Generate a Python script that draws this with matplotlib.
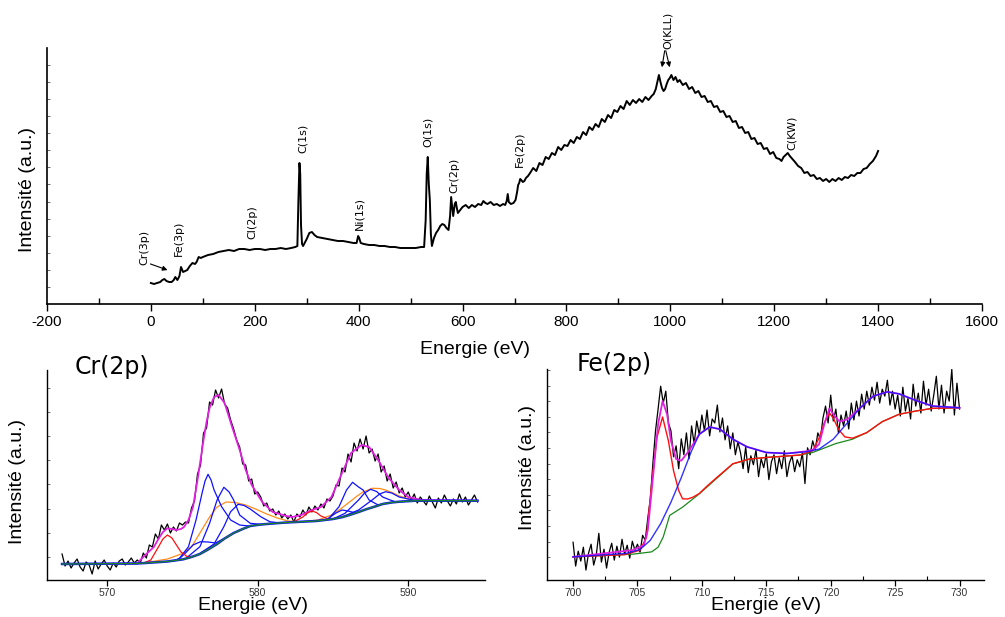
#!/usr/bin/env python3
"""XPS survey + Cr(2p) / Fe(2p) high resolution spectra."""

import matplotlib
import numpy as np

matplotlib.use("Agg")
import matplotlib.pyplot as plt  # noqa: E402
from matplotlib.ticker import FixedLocator, MultipleLocator, NullFormatter  # noqa: E402

plt.rcParams["font.family"] = ["Liberation Sans", "DejaVu Sans"]
plt.rcParams["axes.unicode_minus"] = False

W, H = 1005, 617

# ---------------------------------------------------------------- survey data
survey_energy = [
    0, 6, 12, 18, 22, 26, 30, 35, 40, 44, 47, 51, 55, 58, 62, 66, 70, 75, 80,
    85, 88, 92, 96, 100, 110, 120, 130, 140, 150, 160, 170, 180, 190, 200, 210,
    220, 230, 240, 250, 260, 270, 278, 282, 284, 286, 287.5, 289, 291, 293, 296,
    300, 305, 310, 315, 320, 330, 340, 350, 360, 370, 380, 390, 396, 399, 401,
    404, 410, 420, 430, 440, 450, 460, 470, 480, 490, 500, 510, 520, 526, 529,
    531, 533, 535, 537, 539, 541, 545, 549, 553, 557, 561, 565, 569, 573, 576,
    578, 580, 582, 585, 587, 589, 591, 594, 600, 606, 612, 618, 624, 630, 636,
    640, 644, 648, 654, 660, 666, 672, 678, 682, 685, 687, 689, 693, 698, 702,
    705, 707, 709, 711, 713, 716, 719, 722, 726,
    730, 736, 742, 748, 754, 760, 766, 772, 778, 784, 790, 796, 802, 808, 814,
    820, 826, 832, 838, 844, 850, 856, 862, 868, 874, 880, 886, 892, 898, 904,
    910, 916, 922, 928, 934, 940, 946, 952, 958, 964, 968, 972, 975, 978, 981,
    984, 987, 990, 993, 996, 999, 1002, 1006, 1010, 1014, 1018, 1024, 1030,
    1036, 1042, 1048, 1054, 1060, 1066, 1072, 1078, 1084, 1090, 1096, 1102,
    1108, 1114, 1120, 1126, 1132, 1138, 1144, 1150, 1156, 1162, 1168, 1174,
    1180, 1186, 1192, 1198, 1204, 1210, 1214, 1218, 1222, 1226, 1230, 1235,
    1240, 1246, 1252, 1258, 1264, 1270, 1276, 1282, 1288, 1294, 1300, 1306,
    1312, 1318, 1324, 1330, 1336, 1342, 1348, 1354, 1360, 1366, 1372, 1378,
    1384, 1390, 1396, 1400,
]
survey_counts = [
    21, 20, 21, 22, 24, 25, 23, 22, 22, 24, 27, 24, 28, 37, 32, 33, 34, 38, 41,
    40, 42, 47, 46, 47, 49, 50, 52, 53, 54, 53, 55, 55, 54, 55, 55,
    54, 55, 55, 56, 55, 56, 57, 58, 104, 141, 130, 79, 60, 58, 61,
    65, 71, 72, 69, 67, 66, 65, 64, 63, 63, 62, 61, 61, 68, 66,
    61, 60, 59, 59, 58, 58, 57, 57, 56, 56, 56, 56, 57, 57, 84,
    130, 147, 120, 104, 70, 58, 66, 71, 74, 78, 80, 79, 76, 74, 88,
    107, 97, 88, 100, 102, 96, 91, 93, 97, 99, 96, 99, 97, 100, 99,
    103, 101, 100, 102, 99, 100, 98, 100, 99, 103, 110, 102, 100, 101, 104,
    112, 119, 121, 125, 124, 122, 123, 126, 128,
    131, 136, 133, 141, 139, 147, 145, 151, 149, 157, 154, 159, 158, 164, 161,
    167, 165, 172, 169, 177, 174, 180, 177, 185, 182, 189, 186, 194, 192, 198,
    195, 203, 199, 204, 201, 205, 202, 207, 204, 208, 210, 215, 222, 229, 222,
    216, 213, 215, 220, 224, 226, 229, 224, 227, 222, 224, 219, 221,
    215, 217, 211, 213, 207, 208, 202, 203, 197, 198, 192, 193,
    187, 188, 182, 183, 176, 177, 171, 172, 165, 166, 160, 161,
    155, 156, 150, 152, 146, 145, 143, 147, 149, 151, 148, 145,
    142, 138, 136, 131, 132, 128, 129, 125, 126, 123, 125, 122,
    125, 123, 126, 124, 127, 126, 129, 128, 131, 131, 135, 136,
    140, 143, 148, 153,
]

peak_names = ["Cr(3p)", "Fe(3p)", "Cl(2p)", "C(1s)", "Ni(1s)", "O(1s)",
              "Cr(2p)", "Fe(2p)", "O(KLL)", "C(KW)"]
label_x = [-13, 54, 196, 293, 402, 533, 585, 710, 995, 1234]
label_y = [57, 66, 82, 166, 91, 172, 129, 155, 274, 171]

# ---------------------------------------------------------------- Cr(2p)
cr_energy = np.round(np.arange(567.0, 594.61, 0.2), 1)
cr_counts = [
    26, 14, 19, 12, 17, 21, 13, 9, 18, 15, 6, 19, 11, 16, 20, 14, 10, 17, 13,
    19, 21, 15, 18, 22, 17,
    20, 17, 27, 22, 35, 33, 46, 41, 55, 50, 56, 47, 53, 49, 57, 55,
    58, 57, 72, 79, 106, 115, 147, 152, 178, 175, 190, 182, 191, 176, 172, 160,
    151, 140, 133, 116, 115, 99, 101, 86, 88,
    83, 74, 77, 69, 71, 65, 69, 62, 66, 61, 65, 58, 66, 63, 70, 65, 73, 68,
    74, 70, 76, 72, 81, 79,
    84, 95, 94, 112, 108, 126, 118, 137, 129, 141, 131, 144, 127, 131, 119,
    126, 108, 114, 99, 106, 92, 98, 87, 92, 83,
    88, 80, 86, 77, 83, 79, 75, 84, 78, 72, 82, 77, 85, 79, 74, 81, 76, 86,
    78, 83, 75, 80, 85, 78,
]
cr_env_e = [567.0, 572.0, 572.2, 572.6, 573.1, 573.4, 573.7, 574.0, 574.3,
            574.6, 574.9, 575.1, 575.4, 575.7, 576.0, 576.2, 576.4, 576.6,
            576.8, 577.1, 577.4, 577.8, 578.3, 578.8, 579.2, 579.6, 580.3,
            581.0, 581.9, 582.3, 582.9, 583.6, 584.2, 584.9, 585.6, 586.2,
            586.9, 587.4, 588.0, 588.7, 589.4, 590.0, 590.9, 594.6]
cr_env_h = [16, 16.5, 20, 26, 33, 41, 48, 51.7, 51, 50, 51, 53, 60, 73, 100,
            120, 140, 158, 172, 183, 185, 177, 153, 130, 110, 95, 78, 68, 64,
            63, 65, 70, 73, 83, 107, 127, 135, 133, 120, 102, 90, 83, 80, 79.3]
cr_bg_e = [567.0, 572.0, 572.85, 574.0, 575.05, 575.6, 576.16, 576.7, 577.3,
           577.8, 578.4, 579.0, 579.5, 580.1, 580.6, 581.7, 582.8, 583.9,
           585.0, 585.6, 586.1, 586.7, 587.2, 587.8, 588.3, 588.9, 589.4,
           590.5, 594.6]
cr_bg_h = [16, 16.5, 17.3, 18.5, 20.7, 23, 26, 30.5, 36, 41.5, 47, 51, 54,
           55.3, 56, 57.3, 58.2, 59, 61, 62.8, 65, 68, 70.7, 73.5, 76, 77.5,
           78.3, 79.3, 79.3]
cr_red1_e = [572.4, 572.9, 573.4, 573.7, 574.0, 574.3, 574.6, 574.9, 575.3, 575.7]
cr_red1_h = [16.8, 20, 33, 41, 45, 42, 35, 28, 23.5, 23.5]
cr_red2_e = [582.0, 582.5, 583.0, 583.3, 583.6, 583.9, 584.2, 584.7, 585.2]
cr_red2_h = [57.5, 59, 63, 67, 69, 67.5, 64, 61, 61.5]
cr_orange1_e = [572.0, 573.0, 574.0, 575.0, 575.6, 576.2, 576.8, 577.3, 577.9,
                578.5, 579.2, 579.9, 580.6, 581.3, 582.0, 582.8]
cr_orange1_h = [16.5, 18.5, 21, 26.5, 33, 48, 63, 73, 78, 77.5, 75, 70.7, 66,
                62, 59, 58.2]
cr_orange2_e = [583.0, 584.0, 584.9, 585.5, 586.1, 586.6, 587.0, 587.6, 588.1,
                588.5, 589.0, 589.4, 590.3, 591.0]
cr_orange2_h = [58.3, 60, 65, 71, 78, 84, 88, 91.7, 91.5, 90, 87, 84, 80, 79.3]
cr_blue1_e = [574.4, 574.8, 575.4, 575.9, 576.3, 576.5, 576.7, 576.9, 577.1,
              577.6, 578.2, 578.8, 579.4]
cr_blue1_h = [19, 21.7, 33.3, 60, 86.7, 99, 105.7, 100, 90, 73.3, 60, 55, 54]
cr_blue2_e = [575.3, 576.16, 576.8, 577.3, 577.75, 578.1, 578.4, 578.8, 579.5,
              580.3]
cr_blue2_h = [22.5, 33.3, 56.7, 80, 92.7, 88, 80, 65, 56.7, 55.5]
cr_blue3_e = [576.0, 577.1, 577.75, 578.2, 578.7, 579.1, 579.5, 580.2, 580.8,
              581.5]
cr_blue3_h = [25, 36, 53.3, 68.3, 75.7, 74.5, 71, 63.3, 58.3, 57]
cr_blue4_e = [574.7, 575.2, 575.7, 576.2, 576.7, 577.2, 577.7]
cr_blue4_h = [20, 27, 35, 38.3, 38, 37, 41]
cr_blue5_e = [584.7, 585.4, 585.9, 586.3, 586.7, 587.0, 587.4, 588.0, 588.6]
cr_blue5_h = [61, 73.3, 90, 97.7, 93, 90, 80, 75, 77]
cr_blue6_e = [585.0, 585.8, 586.7, 587.1, 587.5, 587.9, 588.3, 588.8, 589.2,
              589.8]
cr_blue6_h = [61, 66.7, 80, 87, 90.7, 88.5, 83, 80, 78, 78.6]
cr_blue7_e = [585.6, 586.7, 587.6, 588.1, 588.5, 588.9, 589.4, 590.0, 590.5,
              591.2]
cr_blue7_h = [63, 70, 80, 86, 88.3, 87, 83, 81, 79.3, 79.3]
cr_blue8_e = [584.6, 585.2, 585.6, 586.0, 586.5]
cr_blue8_h = [60.7, 67, 70, 69, 67]

# ---------------------------------------------------------------- Fe(2p)
fe_energy = np.round(np.arange(700.0, 730.01, 0.2), 1)
fe_counts = [
    38, 14, 29, 19, 33, 10, 27, 36, 15, 25, 47, 18, 31, 12, 28, 37, 20, 34,
    23, 41, 26, 35, 22, 39, 30,
    36, 28, 45, 40, 62, 82, 118, 150, 172, 195, 178, 190, 158, 150, 124,
    135, 112, 142, 126, 148, 122, 155, 137, 160, 146, 166, 150, 171, 145, 162,
    158, 176, 149, 163, 141, 155, 132, 148, 126, 139,
    128, 112, 134, 108, 125, 116, 131, 104, 122, 113, 127, 101, 119, 126, 107,
    123, 112, 130, 104, 118, 125, 109, 121, 114, 128,
    97, 133, 126, 140, 131, 148, 142, 163, 175, 158, 186, 160, 172, 148, 166,
    155, 170, 152, 178, 161, 180, 165, 187, 172, 190,
    176, 194, 181, 199, 178, 192, 185, 201, 176, 190, 172, 186, 165, 194, 170,
    183, 162, 197, 175, 188, 168, 200, 176, 192, 170,
    186, 205, 172, 196, 168, 190, 180, 212, 166, 198, 172,
]
fe_bg_e = [700.0, 704.65, 706.1, 706.6, 707.0, 707.5, 708.5, 709.8, 711.1,
           712.4, 713.7, 715.0, 717.6, 718.6, 719.6, 720.4, 721.7, 722.8,
           724.0, 725.3, 726.6, 727.9, 730.0]
fe_bg_h = [23.3, 26, 28.3, 33, 43.3, 65, 73.3, 86.7, 101.7, 116.7, 121.7,
           123.3, 125.7, 128.3, 133.3, 137.3, 141.7, 148.3, 159.3, 166.7, 170,
           172.7, 173.3]
fe_red_e = [700.0, 704.0, 705.2, 705.7, 706.1, 706.5, 706.95, 707.4, 707.8,
            708.2, 708.5, 708.9, 709.3, 709.8, 710.3, 711.1, 712.4, 713.7,
            715.0, 717.6, 718.6, 719.1, 719.5, 719.9, 720.2, 720.6, 721.1,
            721.7, 722.8, 724.0, 725.3, 726.6, 727.9, 730.0]
fe_red_h = [23.3, 25.5, 30, 43, 96.7, 143, 164, 140, 110, 90, 81.7, 81.5,
            83.3, 87, 93.3, 102.5, 117, 121.7, 123.3, 125.7, 130, 143, 158,
            168, 163, 151.7, 144, 142.7, 148.3, 159.3, 166.7, 170, 172.7, 173.3]
fe_blue_e = [700.0, 704.1, 705.2, 706.0, 706.8, 707.6, 708.4, 709.2, 709.8,
             710.6, 711.4, 712.4, 713.5, 715.0, 716.6, 718.1, 719.1, 720.2,
             721.2, 722.3, 723.3, 724.4, 725.3, 726.6, 727.9, 730.0]
fe_blue_h = [23.3, 26.7, 30.7, 40, 56.7, 78.3, 103, 130, 146.7, 154, 151.7,
             141.7, 134, 128.3, 127.3, 129, 131.7, 141.7, 156.7, 173.3, 185,
             189.3, 187.3, 180.7, 175, 173.3]
fe_env_e = [700.0, 704.6, 705.5, 705.8, 706.2, 706.6, 706.95, 707.3, 707.6,
            708.0, 708.4, 709.0, 709.8, 710.6, 711.4, 712.4, 713.5, 715.0,
            716.6, 718.1, 718.7, 719.1, 719.5, 719.9, 720.3, 720.7, 721.3,
            722.3, 723.3, 724.4, 725.3, 726.6, 727.9, 730.0]
fe_env_h = [23.3, 30, 35, 50, 103, 156.7, 180, 166.7, 140, 121.7, 120, 130,
            146.7, 154, 151.7, 141.7, 134, 128.3, 127.3, 129.5, 131.5, 136.7,
            156.7, 172.7, 165, 159.3, 161.7, 173.3, 185, 189.3, 187.3, 180.7,
            175, 173.3]

assert len(survey_energy) == len(survey_counts)
assert len(cr_energy) == len(cr_counts)
assert len(fe_energy) == len(fe_counts)


def px(x, y):
    return x / W, 1 - y / H


def style_axis(axis, width):
    for side in ("top", "right"):
        axis.spines[side].set_visible(False)
    for side in ("left", "bottom"):
        axis.spines[side].set_linewidth(width)
    axis.yaxis.set_major_formatter(NullFormatter())
    axis.tick_params(axis="y", which="both", direction="in", length=2.5,
                     width=0.6, color="#555555")


figure = plt.figure(figsize=(W / 100, H / 100), dpi=100)

# ---------------------------------------------------------------- survey
ax_main = figure.add_axes([47 / W, 1 - 304 / H, 935 / W, 256 / H])
ax_main.plot(survey_energy, survey_counts, color="black", linewidth=1.4)
ax_main.set_xlim(-200, 1600)
ax_main.set_ylim(0, 256)
style_axis(ax_main, 1.2)
ax_main.yaxis.set_major_locator(FixedLocator(np.arange(17, 256, 17.1)))
ax_main.xaxis.set_major_locator(MultipleLocator(200))
ax_main.xaxis.set_minor_locator(MultipleLocator(100))
ax_main.tick_params(axis="x", which="major", direction="out", length=5,
                    width=1.0, labelsize=11, pad=3)
ax_main.tick_params(axis="x", which="minor", direction="in", length=4,
                    width=1.0)

for name, xpos, ypos in zip(peak_names, label_x, label_y):
    ax_main.text(xpos, ypos, name, rotation=90, ha="center", va="center",
                 fontsize=8, family="DejaVu Sans", clip_on=False)
ax_main.annotate("", xy=(37, 33), xytext=(-6, 41),
                 arrowprops=dict(arrowstyle="-|>", color="black", lw=0.8,
                                 mutation_scale=7))
for tip in (983, 1000):
    ax_main.annotate("", xy=(tip, 234), xytext=(990, 256),
                     annotation_clip=False,
                     arrowprops=dict(arrowstyle="-|>", color="black", lw=0.8,
                                     mutation_scale=7))

figure.text(*px(475, 349), "Energie (eV)", ha="center", va="center",
            fontsize=14)
figure.text(*px(28, 190), "Intensité (a.u.)", ha="center", va="center",
            fontsize=14, rotation=90)

# ---------------------------------------------------------------- Cr(2p)
ax_cr = figure.add_axes([47 / W, 1 - 580 / H, 438 / W, 210 / H])
ax_cr.plot(cr_energy, cr_counts, color="black", linewidth=0.9)
ax_cr.plot(cr_env_e, cr_env_h, color="#e020e0", linewidth=1.3)
ax_cr.plot(cr_orange1_e, cr_orange1_h, color="#ff8c1a", linewidth=0.9)
ax_cr.plot(cr_orange2_e, cr_orange2_h, color="#ff8c1a", linewidth=0.9)
for xs, ys in ((cr_blue1_e, cr_blue1_h), (cr_blue2_e, cr_blue2_h),
               (cr_blue3_e, cr_blue3_h), (cr_blue4_e, cr_blue4_h),
               (cr_blue5_e, cr_blue5_h), (cr_blue6_e, cr_blue6_h),
               (cr_blue7_e, cr_blue7_h), (cr_blue8_e, cr_blue8_h)):
    ax_cr.plot(xs, ys, color="#1010ff", linewidth=0.9)
ax_cr.plot(cr_red1_e, cr_red1_h, color="#ff1010", linewidth=0.9)
ax_cr.plot(cr_red2_e, cr_red2_h, color="#ff1010", linewidth=0.9)
ax_cr.plot(cr_bg_e, cr_bg_h, color="#1010ff", linewidth=1.8)
ax_cr.plot(cr_bg_e, cr_bg_h, color="#1a8a1a", linewidth=0.9)
ax_cr.set_xlim(566.0, 595.1)
ax_cr.set_ylim(0, 210)
style_axis(ax_cr, 1.0)
ax_cr.yaxis.set_major_locator(FixedLocator(np.arange(23, 210, 24.2)))
ax_cr.xaxis.set_major_locator(MultipleLocator(10))
ax_cr.tick_params(axis="x", which="major", direction="out", length=4,
                  width=0.9, labelsize=7.5, labelcolor="#333333", pad=2)

figure.text(*px(75, 367), "Cr(2p)", ha="left", va="center", fontsize=17,
            family="DejaVu Sans")
figure.text(*px(253, 606), "Energie (eV)", ha="center", va="center",
            fontsize=14)
figure.text(*px(18, 481), "Intensité (a.u.)", ha="center", va="center",
            fontsize=14, rotation=90)

# ---------------------------------------------------------------- Fe(2p)
ax_fe = figure.add_axes([547.3 / W, 1 - 580 / H, 436.7 / W, 210.7 / H])
ax_fe.plot(fe_energy, fe_counts, color="black", linewidth=0.9)
ax_fe.plot(fe_bg_e, fe_bg_h, color="#1a8a1a", linewidth=0.9)
ax_fe.plot(fe_red_e, fe_red_h, color="#ff1010", linewidth=1.0)
ax_fe.plot(fe_env_e, fe_env_h, color="#e020e0", linewidth=1.3)
ax_fe.plot(fe_blue_e, fe_blue_h, color="#1010ff", linewidth=1.0, alpha=0.85)
ax_fe.set_xlim(698.0, 731.9)
ax_fe.set_ylim(0, 212)
style_axis(ax_fe, 1.0)
ax_fe.yaxis.set_major_locator(FixedLocator(np.arange(23, 212, 15.7)))
ax_fe.xaxis.set_major_locator(MultipleLocator(5))
ax_fe.xaxis.set_minor_locator(MultipleLocator(2.5))
ax_fe.tick_params(axis="x", which="major", direction="out", length=4,
                  width=0.9, labelsize=7.5, labelcolor="#333333", pad=2)
ax_fe.tick_params(axis="x", which="minor", direction="in", length=3,
                  width=0.8)

figure.text(*px(577, 364), "Fe(2p)", ha="left", va="center", fontsize=17,
            family="DejaVu Sans")
figure.text(*px(766, 606), "Energie (eV)", ha="center", va="center",
            fontsize=14)
figure.text(*px(528, 468), "Intensité (a.u.)", ha="center", va="center",
            fontsize=14, rotation=90)

figure.savefig("out.png", dpi=100)
plt.close(figure)
